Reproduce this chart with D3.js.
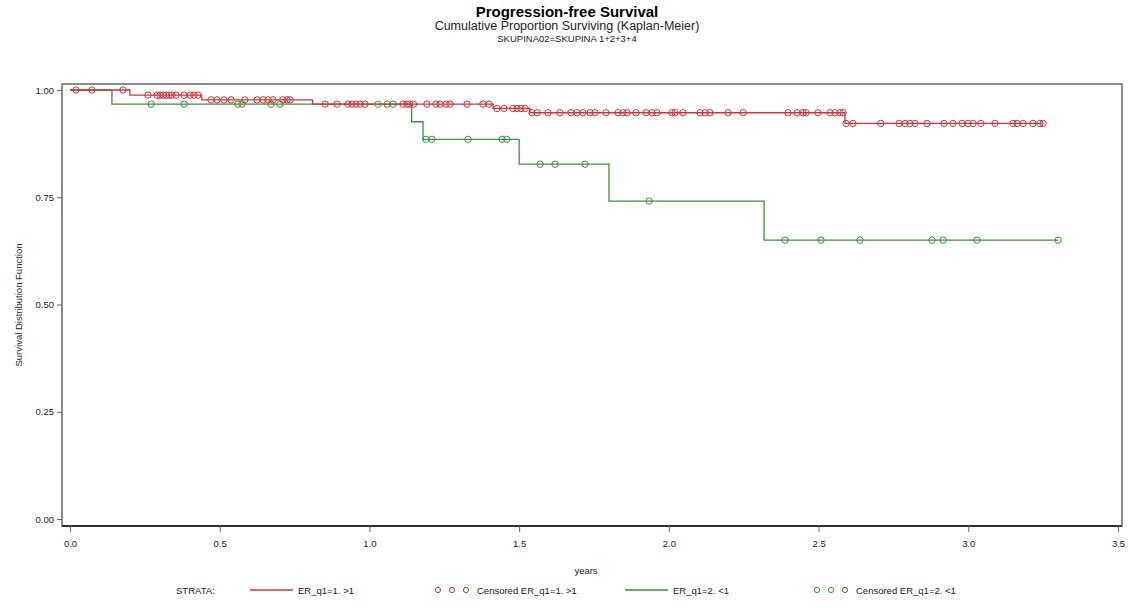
<!DOCTYPE html>
<html>
<head>
<meta charset="utf-8">
<script src="https://cdn.jsdelivr.net/npm/d3@7"></script>
<style>
  body { margin: 0; background: #fff; }
  svg { font-family: "Liberation Sans", Arial, sans-serif; }
  .tick text { font-size: 9.5px; fill: #222; }
</style>
</head>
<body>
<div id="chart"></div>
<script>
// Kaplan-Meier steps: [years, survival]
var steps_er1 = [[0, 1.0], [0.20, 0.988], [0.44, 0.977], [0.81, 0.967], [1.413, 0.957], [1.536, 0.947], [2.588, 0.922], [3.25, 0.922]];
var steps_er2 = [[0, 1.0], [0.14, 0.967], [1.141, 0.926], [1.179, 0.885], [1.50, 0.827], [1.80, 0.741], [2.318, 0.65], [3.30, 0.65]];

// censored times (years)
var censored_er1 = [0.020, 0.073, 0.177, 0.260, 0.291, 0.301, 0.311, 0.321, 0.331, 0.341, 0.354, 0.381, 0.401, 0.414, 0.427,
    0.471, 0.491, 0.514, 0.538, 0.584, 0.625, 0.645, 0.661, 0.678, 0.711, 0.725, 0.735,
    0.852, 0.892, 0.928, 0.942, 0.955, 0.968, 0.985, 1.112, 1.125, 1.135, 1.147, 1.192, 1.222, 1.236, 1.256, 1.269, 1.326, 1.379, 1.399,
    1.426, 1.449, 1.479, 1.493, 1.506, 1.520,
    1.543, 1.560, 1.596, 1.636, 1.673, 1.693, 1.713, 1.737, 1.753, 1.790, 1.830, 1.847, 1.860, 1.890, 1.924, 1.944, 1.960,
    2.010, 2.021, 2.047, 2.104, 2.121, 2.137, 2.198, 2.248, 2.398, 2.428, 2.448, 2.458, 2.498, 2.538, 2.555, 2.572, 2.582,
    2.592, 2.615, 2.708, 2.769, 2.789, 2.805, 2.822, 2.862, 2.919, 2.949, 2.979, 2.999, 3.016, 3.042, 3.089, 3.149, 3.163, 3.183, 3.216, 3.239, 3.250];
var censored_er2 = [0.271, 0.381, 0.561, 0.574, 0.671, 0.701, 1.029, 1.059, 1.079,
    1.189, 1.209, 1.329, 1.443, 1.459, 1.570, 1.620, 1.720, 1.934,
    2.388, 2.508, 2.638, 2.879, 2.916, 3.029, 3.300];

var xTicks = [0, 0.5, 1.0, 1.5, 2.0, 2.5, 3.0, 3.5];
var yTicks = [0, 0.25, 0.5, 0.75, 1.0];

var red = "#d0343c", green = "#3d9140";

var width = 1128, height = 608;
var frame = {left: 62, right: 1122, top: 84, bottom: 526};

var x = d3.scaleLinear().domain([0, 3.5]).range([70, 1118]),
    y = d3.scaleLinear().domain([0, 1]).range([519, 90]);

var svg = d3.select("#chart").append("svg")
    .attr("width", width)
    .attr("height", height);

// titles
svg.append("text").attr("x", 567).attr("y", 17).attr("text-anchor", "middle")
    .style("font-size", "15px").style("font-weight", "bold").text("Progression-free Survival");
svg.append("text").attr("x", 567).attr("y", 30).attr("text-anchor", "middle")
    .style("font-size", "12.5px").style("fill", "#222").text("Cumulative Proportion Surviving (Kaplan-Meier)");
svg.append("text").attr("x", 567).attr("y", 42).attr("text-anchor", "middle")
    .style("font-size", "9.5px").style("fill", "#222").text("SKUPINA02=SKUPINA 1+2+3+4");

// frame
svg.append("rect")
    .attr("x", frame.left).attr("y", frame.top)
    .attr("width", frame.right - frame.left).attr("height", frame.bottom - frame.top)
    .attr("fill", "none").attr("stroke", "#666").attr("stroke-width", 1.5);
svg.append("line")
    .attr("x1", frame.left).attr("x2", frame.right)
    .attr("y1", frame.bottom).attr("y2", frame.bottom)
    .attr("stroke", "#111").attr("stroke-width", 1.5);

// axes
var xAxis = d3.axisBottom(x).tickValues(xTicks).tickFormat(d3.format(".1f")).tickSize(6).tickPadding(8);
svg.append("g").attr("transform", "translate(0," + frame.bottom + ")").call(xAxis)
    .call(function (g) { g.select(".domain").remove(); })
    .selectAll("line").attr("stroke", "#666");

var yAxis = d3.axisLeft(y).tickValues(yTicks).tickFormat(d3.format(".2f")).tickSize(5).tickPadding(3);
svg.append("g").attr("transform", "translate(" + frame.left + ",0)").call(yAxis)
    .call(function (g) { g.select(".domain").remove(); })
    .selectAll("line").attr("stroke", "#666");

svg.append("text")
    .attr("transform", "translate(22," + ((frame.top + frame.bottom) / 2) + ")rotate(-90)")
    .attr("text-anchor", "middle")
    .style("font-size", "9.5px").style("fill", "#222")
    .text("Survival Distribution Function");

svg.append("text").attr("x", 586).attr("y", 574).attr("text-anchor", "middle")
    .style("font-size", "9.5px").style("fill", "#222").text("years");

// curves
var line = d3.line()
    .x(function (d) { return x(d[0]); })
    .y(function (d) { return y(d[1]); })
    .curve(d3.curveStepAfter);

function survAt(steps, t) {
    var s = steps[0][1];
    steps.forEach(function (d) { if (d[0] <= t) s = d[1]; });
    return s;
}

function drawGroup(steps, censored, color) {
    svg.append("path")
        .datum(steps)
        .attr("d", line)
        .attr("fill", "none")
        .attr("stroke", color)
        .attr("stroke-width", 1.3);
    svg.append("g").selectAll("circle")
        .data(censored)
        .enter().append("circle")
        .attr("cx", function (d) { return x(d); })
        .attr("cy", function (d) { return y(survAt(steps, d)); })
        .attr("r", 3.2)
        .attr("fill", "none")
        .attr("stroke", color)
        .attr("stroke-width", 1);
}

drawGroup(steps_er2, censored_er2, green);
drawGroup(steps_er1, censored_er1, red);

// legend
var ly = 590;
var legend = svg.append("g").style("font-size", "9.5px").style("fill", "#222");
legend.append("text").attr("x", 176).attr("y", ly + 3.5).text("STRATA:");

var legendItems = [
    {type: "line", color: red, label: "ER_q1=1. >1", x: 250},
    {type: "circle", color: red, label: "Censored ER_q1=1. >1", x: 438},
    {type: "line", color: green, label: "ER_q1=2. <1", x: 625},
    {type: "circle", color: green, label: "Censored ER_q1=2. <1", x: 817}
];

legendItems.forEach(function (d) {
    if (d.type === "line") {
        legend.append("line").attr("x1", d.x).attr("x2", d.x + 43)
            .attr("y1", ly).attr("y2", ly)
            .attr("stroke", d.color).attr("stroke-width", 1.3);
        legend.append("text").attr("x", d.x + 48).attr("y", ly + 3.5).text(d.label);
    } else {
        [0, 14, 28].forEach(function (o) {
            legend.append("circle").attr("cx", d.x + o).attr("cy", ly).attr("r", 2.6)
                .attr("fill", "none").attr("stroke", d.color);
        });
        legend.append("text").attr("x", d.x + 39).attr("y", ly + 3.5).text(d.label);
    }
});
</script>
</body>
</html>
